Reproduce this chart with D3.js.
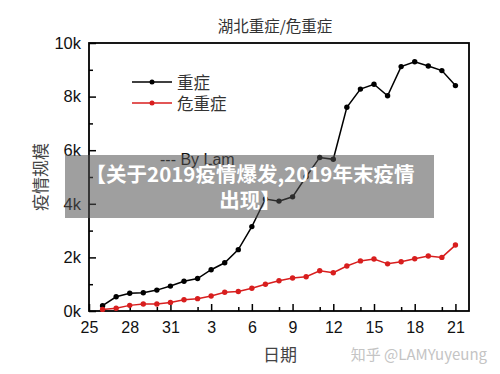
<!DOCTYPE html>
<html>
<head>
<meta charset="utf-8">
<script src="https://cdn.jsdelivr.net/npm/d3@7"></script>
<style>
  body { margin: 0; background: #fff; }
  svg { display: block; }
  .tick text { font-family: "Liberation Sans", Arial, sans-serif; }
</style>
</head>
<body>
<div id="chart"></div>
<script>
// day index 0 = Jan 25
var xTickDays = [0, 3, 6, 9, 12, 15, 18, 21, 24, 27]
var xTickLabels = ["25", "28", "31", "3", "6", "9", "12", "15", "18", "21"]
var xMinorDays = [2, 5, 8, 11, 14, 17, 20, 23, 26]
var days = d3.range(1, 28)

// 重症 (severe)
var severe = [200, 530, 660, 680, 780, 930, 1110, 1210, 1540, 1800, 2290,
  3150, 4180, 4100, 4260, 5010, 5730, 5660, 7600, 8280, 8460, 8030,
  9120, 9300, 9140, 8970, 8410]
// 危重症 (critical)
var critical = [60, 100, 210, 260, 260, 320, 420, 460, 560, 700, 730,
  850, 1000, 1130, 1230, 1280, 1500, 1430, 1680, 1870, 1940, 1760,
  1840, 1950, 2050, 2000, 2460]

var yTicks = [0, 2000, 4000, 6000, 8000, 10000]
var yMinor = [1000, 3000, 5000, 7000, 9000]

var W = 500, H = 374
var pLeft = 89, pRight = 469, pTop = 43, pBottom = 311
var cjk = '"Noto Sans CJK SC", sans-serif'
var latin = '"Liberation Sans", Arial, sans-serif'

var svg = d3.select("#chart").append("svg").attr("width", W).attr("height", H)

var x = d3.scaleLinear().domain([0, 28]).range([pLeft, pRight])
var y = d3.scaleLinear().domain([0, 10000]).range([pBottom, pTop])

// title
svg.append("text")
  .attr("x", 275).attr("y", 32)
  .attr("text-anchor", "middle")
  .style("font-family", cjk).style("font-size", "15.5px").style("fill", "#333")
  .text("湖北重症/危重症")

// x axis, ticks pointing in
var xAxis = d3.axisBottom(x)
  .tickValues(xTickDays)
  .tickFormat(function (d, i) { return xTickLabels[i]; })
  .tickSizeInner(-7).tickSizeOuter(0).tickPadding(11)
var gx = svg.append("g").attr("transform", "translate(0," + pBottom + ")").call(xAxis)
gx.select(".domain").remove()
gx.selectAll("text").style("font-size", "16px").style("fill", "#111")
gx.selectAll("line").attr("stroke", "#000").attr("stroke-width", 1.5)

svg.append("g").attr("transform", "translate(0," + pBottom + ")")
  .call(d3.axisBottom(x).tickValues(xMinorDays).tickFormat("").tickSizeInner(-4).tickSizeOuter(0))
  .call(function (g) { g.select(".domain").remove(); g.selectAll("line").attr("stroke-width", 1.5); })

// y axis
var yAxis = d3.axisLeft(y)
  .tickValues(yTicks)
  .tickFormat(function (d) { return (d / 1000) + "k"; })
  .tickSizeInner(-7).tickSizeOuter(0).tickPadding(8)
var gy = svg.append("g").attr("transform", "translate(" + pLeft + ",0)").call(yAxis)
gy.select(".domain").remove()
gy.selectAll("text").style("font-size", "16.5px").style("fill", "#111")
gy.selectAll("line").attr("stroke", "#000").attr("stroke-width", 1.5)

svg.append("g").attr("transform", "translate(" + pLeft + ",0)")
  .call(d3.axisLeft(y).tickValues(yMinor).tickFormat("").tickSizeInner(-4).tickSizeOuter(0))
  .call(function (g) { g.select(".domain").remove(); g.selectAll("line").attr("stroke-width", 1.5); })

// frame
svg.append("rect")
  .attr("x", pLeft).attr("y", pTop)
  .attr("width", pRight - pLeft).attr("height", pBottom - pTop)
  .attr("fill", "none").attr("stroke", "#000").attr("stroke-width", 1.8)

// axis titles
svg.append("text")
  .attr("transform", "translate(42,177) rotate(-90)")
  .attr("text-anchor", "middle").attr("dominant-baseline", "middle")
  .style("font-family", cjk).style("font-size", "17px").style("fill", "#444")
  .text("疫情规模")
svg.append("text")
  .attr("x", 280).attr("y", 361)
  .attr("text-anchor", "middle")
  .style("font-family", cjk).style("font-size", "17px").style("fill", "#444")
  .text("日期")

// series
var series = [
  {name: "重症", values: severe, color: "#000"},
  {name: "危重症", values: critical, color: "#d81e1e"}
]
var line = d3.line()
  .x(function (d) { return x(d[0]); })
  .y(function (d) { return y(d[1]); })

series.forEach(function (s) {
  var pts = days.map(function (d, i) { return [d, s.values[i]]; })
  svg.append("path")
    .datum(pts)
    .attr("d", line)
    .attr("fill", "none").attr("stroke", s.color).attr("stroke-width", 1.5)
  svg.selectAll(null)
    .data(pts)
    .enter()
    .append("circle")
    .attr("cx", function (d) { return x(d[0]); })
    .attr("cy", function (d) { return y(d[1]); })
    .attr("r", 2.7)
    .style("fill", s.color)
})

// legend
var legend = svg.append("g")
series.forEach(function (s, i) {
  var ly = 82 + i * 21
  legend.append("line")
    .attr("x1", 132).attr("x2", 172).attr("y1", ly).attr("y2", ly)
    .attr("stroke", s.color).attr("stroke-width", 1.5)
  legend.append("circle").attr("cx", 152).attr("cy", ly).attr("r", 2.5).style("fill", s.color)
  legend.append("text")
    .attr("x", 177).attr("y", ly).attr("dominant-baseline", "central")
    .style("font-family", cjk).style("font-size", "16.5px").style("fill", "#333")
    .text(s.name)
})

svg.append("text")
  .attr("x", 160).attr("y", 165)
  .style("font-family", latin).style("font-size", "16px").style("fill", "#111")
  .text("--- By Lam")

// watermark banner
svg.append("rect")
  .attr("x", 65).attr("y", 155).attr("width", 369).attr("height", 63)
  .attr("fill", "rgba(80,80,80,0.55)")
svg.append("text")
  .attr("x", 250).attr("y", 173).attr("text-anchor", "middle").attr("dominant-baseline", "central")
  .style("font-family", cjk).style("font-size", "20.5px").style("font-weight", "bold").style("fill", "#fff")
  .text("【关于2019疫情爆发,2019年末疫情")
svg.append("text")
  .attr("x", 250).attr("y", 199).attr("text-anchor", "middle").attr("dominant-baseline", "central")
  .style("font-family", cjk).style("font-size", "20.5px").style("font-weight", "bold").style("fill", "#fff")
  .text("出现】")

svg.append("text")
  .attr("x", 487).attr("y", 353).attr("text-anchor", "end").attr("dominant-baseline", "central")
  .style("font-family", cjk).style("font-size", "15px").style("fill", "#c4c4c4")
  .text("知乎 @LAMYuyeung")
</script>
</body>
</html>
